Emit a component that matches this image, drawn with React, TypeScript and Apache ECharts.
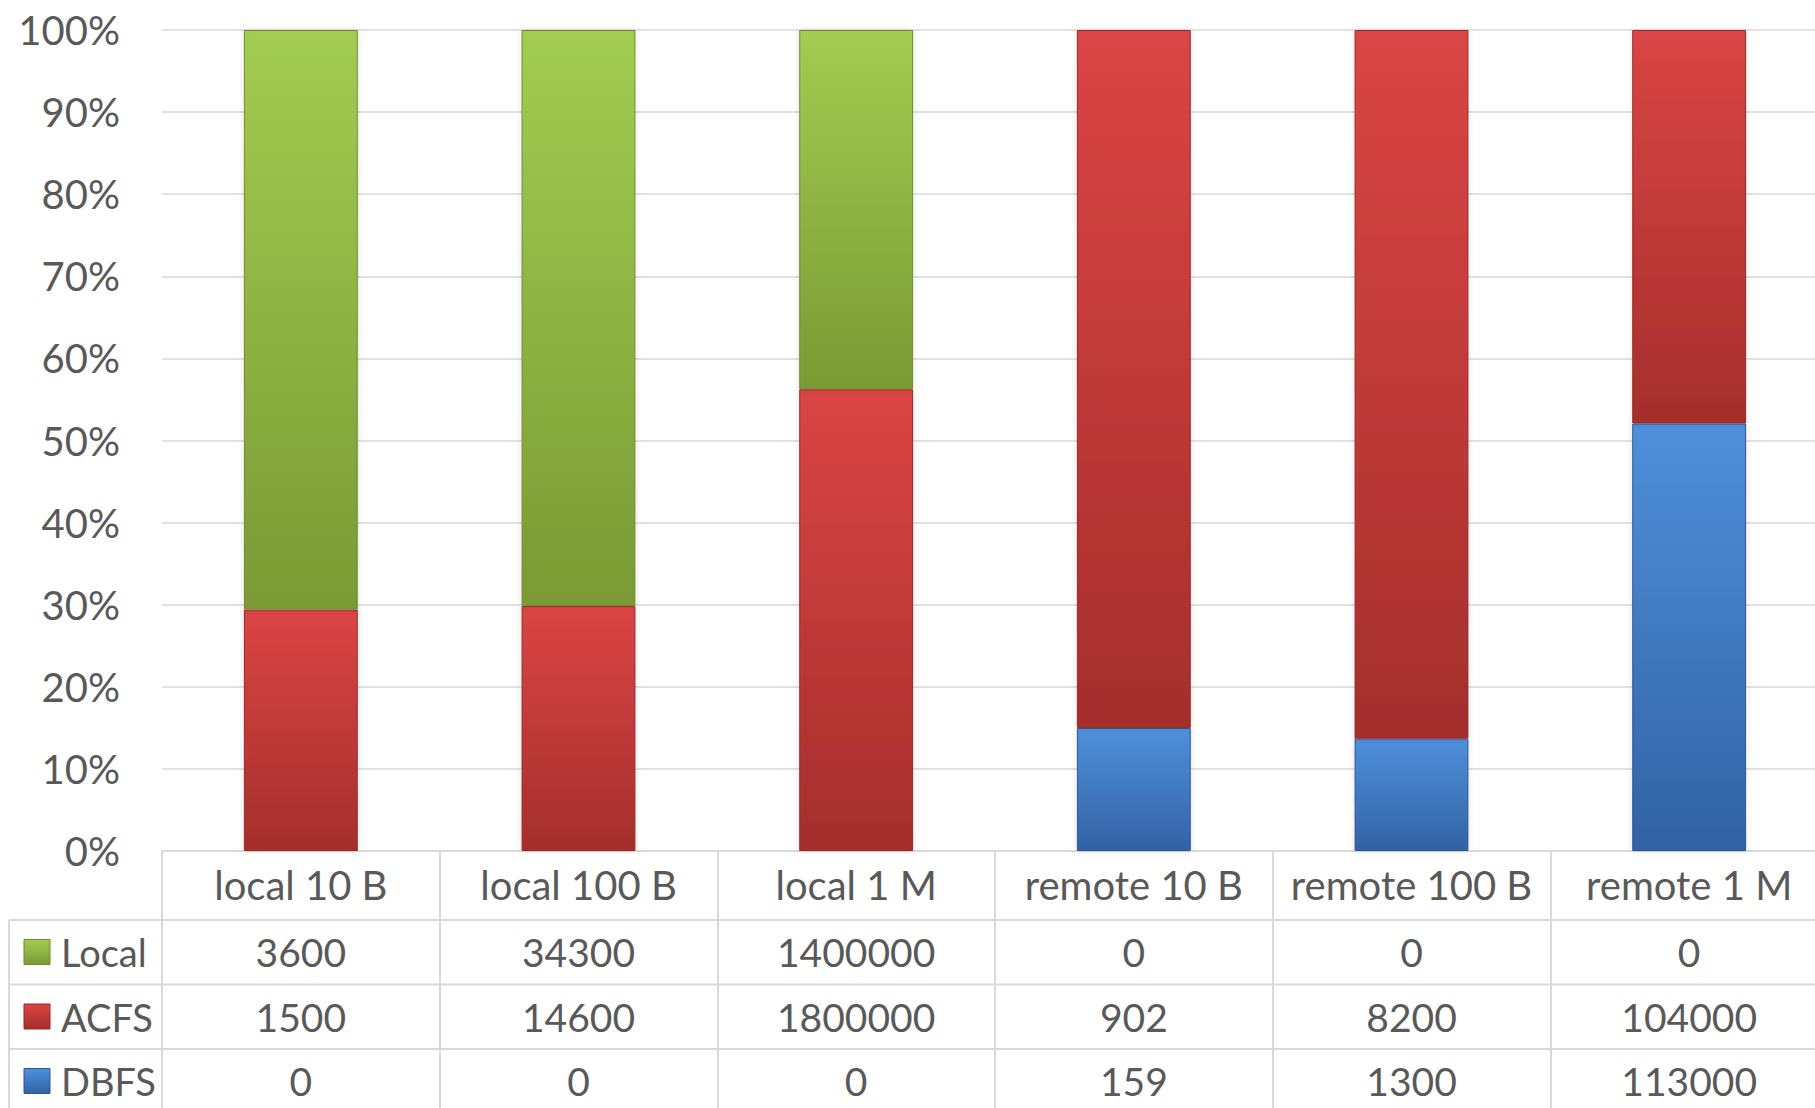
import React, { useEffect, useRef } from "react";
import * as echarts from "echarts";

const categories = ["local 10 B", "local 100 B", "local 1 M", "remote 10 B", "remote 100 B", "remote 1 M"];
const localValues = [3600, 34300, 1400000, 0, 0, 0];
const acfsValues = [1500, 14600, 1800000, 902, 8200, 104000];
const dbfsValues = [0, 0, 0, 159, 1300, 113000];
const seriesNames = ["Local", "ACFS", "DBFS"];

const FONT = "Lato";
const TEXT = "#595959";
const LINE = "#d9d9d9";
const W = 1828;

const grad = (top: string, bottom: string) =>
  new echarts.graphic.LinearGradient(0, 0, 0, 1, [
    { offset: 0, color: top },
    { offset: 1, color: bottom },
  ]);

const colors: Record<string, [string, string, string]> = {
  Local: ["#a3cc52", "#7a9a34", "#6f8c2e"],
  ACFS: ["#db4545", "#a52e2c", "#962a28"],
  DBFS: ["#4f90db", "#3262a4", "#2c5894"],
};

export default function App() {
  const ref = useRef<HTMLDivElement>(null);
  useEffect(() => {
    if (!ref.current) return;
    const chart = echarts.init(ref.current, undefined, { renderer: "svg" });
    const totals = categories.map((_, i) => localValues[i] + acfsValues[i] + dbfsValues[i]);
    const pct = (arr: number[]) => arr.map((v, i) => (totals[i] ? (v / totals[i]) * 100 : 0));
    const raw: Record<string, number[]> = { Local: localValues, ACFS: acfsValues, DBFS: dbfsValues };
    const mkSeries = (name: string) => ({
      name,
      type: "bar",
      stack: "total",
      barWidth: "41%",
      data: pct(raw[name]),
      itemStyle: {
        color: grad(colors[name][0], colors[name][1]),
        borderColor: colors[name][2],
        borderWidth: 1,
        shadowColor: "rgba(0,0,0,0.12)",
        shadowBlur: 6,
      },
    });
    chart.setOption({
      animation: false,
      backgroundColor: "#ffffff",
      grid: { left: 162, top: 30, width: 1666, height: 821 },
      xAxis: {
        type: "category",
        data: categories,
        axisLine: { show: true, lineStyle: { color: LINE, width: 2 } },
        axisTick: { show: true, interval: 0, length: 262, lineStyle: { color: LINE, width: 2 } },
        axisLabel: { interval: 0, margin: 34, verticalAlign: "middle", fontFamily: FONT, fontSize: 40, color: TEXT },
      },
      yAxis: {
        type: "value",
        min: 0,
        max: 100,
        interval: 10,
        axisLine: { show: false },
        axisTick: { show: false },
        splitLine: { lineStyle: { color: LINE, width: 1.5 } },
        axisLabel: { formatter: "{value}%", margin: 42, fontFamily: FONT, fontSize: 40, color: TEXT },
      },
      series: ["DBFS", "ACFS", "Local"].map(mkSeries),
    });

    const rowY = [952, 1016.5, 1081];
    const lineYs = [920, 984.5, 1049];
    const graphics: any[] = [];
    lineYs.forEach((y) =>
      graphics.push({ type: "line", shape: { x1: 9, y1: y, x2: W, y2: y }, style: { stroke: LINE, lineWidth: 2 } })
    );
    graphics.push({ type: "line", shape: { x1: 9, y1: 920, x2: 9, y2: 1108 }, style: { stroke: LINE, lineWidth: 2 } });
    seriesNames.forEach((name, r) => {
      const y = rowY[r];
      graphics.push({
        type: "rect",
        shape: { x: 24, y: y - 12.5, width: 26, height: 25 },
        style: { fill: grad(colors[name][0], colors[name][1]), stroke: colors[name][2], lineWidth: 1 },
      });
      graphics.push({
        type: "text",
        x: 61,
        y,
        style: { text: name, fontFamily: FONT, fontSize: 38, fill: TEXT, align: "left", verticalAlign: "middle" },
      });
      categories.forEach((c, i) => {
        const x = chart.convertToPixel({ xAxisIndex: 0 }, c) as number;
        graphics.push({
          type: "text",
          x,
          y,
          style: { text: String(raw[name][i]), fontFamily: FONT, fontSize: 39, fill: TEXT, align: "center", verticalAlign: "middle" },
        });
      });
    });
    chart.setOption({ graphic: graphics });
    return () => chart.dispose();
  }, []);
  return <div ref={ref} style={{ position: "fixed", left: 0, top: 0, width: W, height: 1108 }} />;
}
